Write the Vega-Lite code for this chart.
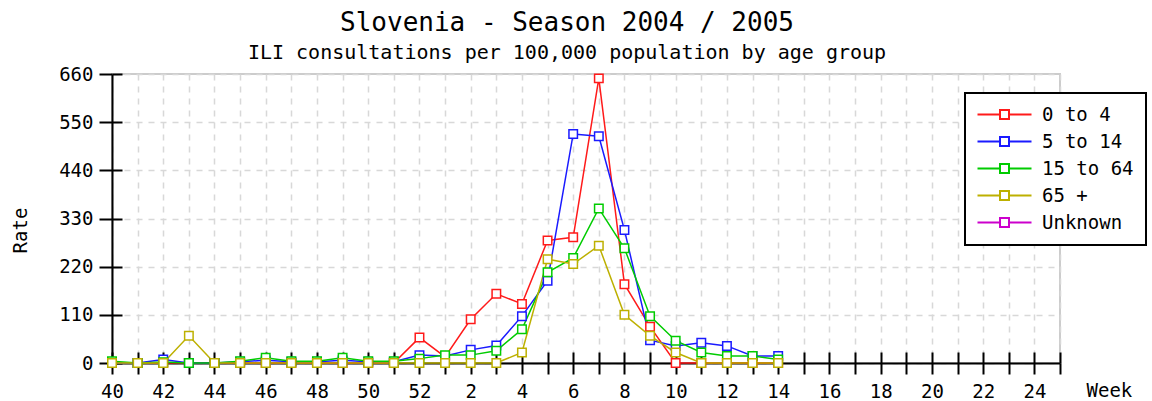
{
  "$schema": "https://vega.github.io/schema/vega-lite/v6.json",
  "width": 948,
  "height": 289,
  "autosize": "none",
  "padding": {"left": 112, "top": 74, "right": 92, "bottom": 38},
  "background": "white",
  "config": {
    "font": "DejaVu Sans Mono",
    "view": {"stroke": "#cccccc", "strokeWidth": 2}
  },
  "title": {
    "text": "Slovenia - Season 2004 / 2005",
    "subtitle": "ILI consultations per 100,000 population by age group",
    "font": "DejaVu Sans Mono",
    "subtitleFont": "DejaVu Sans Mono",
    "fontSize": 26,
    "subtitleFontSize": 20,
    "fontWeight": "normal",
    "color": "black",
    "subtitleColor": "black",
    "anchor": "middle",
    "dx": -19,
    "offset": 2,
    "subtitlePadding": 7
  },
  "data": {
    "values": [
      {"week": 40, "group": "0 to 4", "rate": 0},
      {"week": 41, "group": "0 to 4", "rate": 0},
      {"week": 42, "group": "0 to 4", "rate": 0},
      {"week": 43, "group": "0 to 4", "rate": 0},
      {"week": 44, "group": "0 to 4", "rate": 0},
      {"week": 45, "group": "0 to 4", "rate": 0},
      {"week": 46, "group": "0 to 4", "rate": 0},
      {"week": 47, "group": "0 to 4", "rate": 0},
      {"week": 48, "group": "0 to 4", "rate": 0},
      {"week": 49, "group": "0 to 4", "rate": 0},
      {"week": 50, "group": "0 to 4", "rate": 0},
      {"week": 51, "group": "0 to 4", "rate": 0},
      {"week": 52, "group": "0 to 4", "rate": 58},
      {"week": 1, "group": "0 to 4", "rate": 14},
      {"week": 2, "group": "0 to 4", "rate": 100},
      {"week": 3, "group": "0 to 4", "rate": 158},
      {"week": 4, "group": "0 to 4", "rate": 135},
      {"week": 5, "group": "0 to 4", "rate": 280},
      {"week": 6, "group": "0 to 4", "rate": 287},
      {"week": 7, "group": "0 to 4", "rate": 650},
      {"week": 8, "group": "0 to 4", "rate": 180},
      {"week": 9, "group": "0 to 4", "rate": 83},
      {"week": 10, "group": "0 to 4", "rate": 0},
      {"week": 11, "group": "0 to 4", "rate": 0},
      {"week": 12, "group": "0 to 4", "rate": 0},
      {"week": 13, "group": "0 to 4", "rate": 0},
      {"week": 14, "group": "0 to 4", "rate": 0},

      {"week": 40, "group": "5 to 14", "rate": 0},
      {"week": 41, "group": "5 to 14", "rate": 0},
      {"week": 42, "group": "5 to 14", "rate": 8},
      {"week": 43, "group": "5 to 14", "rate": 0},
      {"week": 44, "group": "5 to 14", "rate": 0},
      {"week": 45, "group": "5 to 14", "rate": 3},
      {"week": 46, "group": "5 to 14", "rate": 6},
      {"week": 47, "group": "5 to 14", "rate": 3},
      {"week": 48, "group": "5 to 14", "rate": 3},
      {"week": 49, "group": "5 to 14", "rate": 6},
      {"week": 50, "group": "5 to 14", "rate": 3},
      {"week": 51, "group": "5 to 14", "rate": 3},
      {"week": 52, "group": "5 to 14", "rate": 18},
      {"week": 1, "group": "5 to 14", "rate": 16},
      {"week": 2, "group": "5 to 14", "rate": 30},
      {"week": 3, "group": "5 to 14", "rate": 40},
      {"week": 4, "group": "5 to 14", "rate": 107},
      {"week": 5, "group": "5 to 14", "rate": 188},
      {"week": 6, "group": "5 to 14", "rate": 523},
      {"week": 7, "group": "5 to 14", "rate": 518},
      {"week": 8, "group": "5 to 14", "rate": 304},
      {"week": 9, "group": "5 to 14", "rate": 52},
      {"week": 10, "group": "5 to 14", "rate": 39},
      {"week": 11, "group": "5 to 14", "rate": 46},
      {"week": 12, "group": "5 to 14", "rate": 39},
      {"week": 13, "group": "5 to 14", "rate": 16},
      {"week": 14, "group": "5 to 14", "rate": 16},

      {"week": 40, "group": "15 to 64", "rate": 4},
      {"week": 41, "group": "15 to 64", "rate": 0},
      {"week": 42, "group": "15 to 64", "rate": 2},
      {"week": 43, "group": "15 to 64", "rate": 0},
      {"week": 44, "group": "15 to 64", "rate": 0},
      {"week": 45, "group": "15 to 64", "rate": 4},
      {"week": 46, "group": "15 to 64", "rate": 12},
      {"week": 47, "group": "15 to 64", "rate": 4},
      {"week": 48, "group": "15 to 64", "rate": 4},
      {"week": 49, "group": "15 to 64", "rate": 12},
      {"week": 50, "group": "15 to 64", "rate": 4},
      {"week": 51, "group": "15 to 64", "rate": 4},
      {"week": 52, "group": "15 to 64", "rate": 10},
      {"week": 1, "group": "15 to 64", "rate": 18},
      {"week": 2, "group": "15 to 64", "rate": 18},
      {"week": 3, "group": "15 to 64", "rate": 28},
      {"week": 4, "group": "15 to 64", "rate": 77},
      {"week": 5, "group": "15 to 64", "rate": 207},
      {"week": 6, "group": "15 to 64", "rate": 240},
      {"week": 7, "group": "15 to 64", "rate": 353},
      {"week": 8, "group": "15 to 64", "rate": 262},
      {"week": 9, "group": "15 to 64", "rate": 107},
      {"week": 10, "group": "15 to 64", "rate": 51},
      {"week": 11, "group": "15 to 64", "rate": 24},
      {"week": 12, "group": "15 to 64", "rate": 16},
      {"week": 13, "group": "15 to 64", "rate": 16},
      {"week": 14, "group": "15 to 64", "rate": 8},

      {"week": 40, "group": "65 +", "rate": 0},
      {"week": 41, "group": "65 +", "rate": 0},
      {"week": 42, "group": "65 +", "rate": 0},
      {"week": 43, "group": "65 +", "rate": 62},
      {"week": 44, "group": "65 +", "rate": 0},
      {"week": 45, "group": "65 +", "rate": 0},
      {"week": 46, "group": "65 +", "rate": 0},
      {"week": 47, "group": "65 +", "rate": 0},
      {"week": 48, "group": "65 +", "rate": 0},
      {"week": 49, "group": "65 +", "rate": 0},
      {"week": 50, "group": "65 +", "rate": 0},
      {"week": 51, "group": "65 +", "rate": 0},
      {"week": 52, "group": "65 +", "rate": 0},
      {"week": 1, "group": "65 +", "rate": 0},
      {"week": 2, "group": "65 +", "rate": 0},
      {"week": 3, "group": "65 +", "rate": 0},
      {"week": 4, "group": "65 +", "rate": 24},
      {"week": 5, "group": "65 +", "rate": 237},
      {"week": 6, "group": "65 +", "rate": 226},
      {"week": 7, "group": "65 +", "rate": 268},
      {"week": 8, "group": "65 +", "rate": 110},
      {"week": 9, "group": "65 +", "rate": 62},
      {"week": 10, "group": "65 +", "rate": 24},
      {"week": 11, "group": "65 +", "rate": 0},
      {"week": 12, "group": "65 +", "rate": 0},
      {"week": 13, "group": "65 +", "rate": 0},
      {"week": 14, "group": "65 +", "rate": 0}
    ]
  },
  "layer": [
    {
      "mark": {"type": "line", "opacity": 0},
      "encoding": {
        "x": {
          "field": "week", "type": "ordinal",
          "scale": {"type": "point", "padding": 0, "domain": [40,41,42,43,44,45,46,47,48,49,50,51,52,1,2,3,4,5,6,7,8,9,10,11,12,13,14,15,16,17,18,19,20,21,22,23,24,25]},
          "axis": {
            "orient": "bottom", "grid": true, "gridColor": "#d8d8d8", "gridDash": [6, 6], "gridWidth": 1.5,
            "ticks": true, "tickSize": -11, "tickColor": "black", "tickWidth": 2,
            "labels": false, "domain": false, "title": null
          }
        },
        "y": {
          "field": "rate", "type": "quantitative",
          "scale": {"domain": [0, 660], "nice": false, "zero": true},
          "axis": {
            "orient": "left", "values": [0,110,220,330,440,550,660], "grid": true, "gridColor": "#d8d8d8", "gridDash": [6, 6], "gridWidth": 1.5,
            "ticks": true, "tickSize": -10, "tickColor": "black", "tickWidth": 2,
            "labels": false, "domain": false, "title": null
          }
        },
        "detail": {"field": "group"},
        "order": {"value": null}
      }
    },
    {
      "mark": {
        "type": "line", "strokeWidth": 1.5,
        "point": {"shape": "square", "filled": false, "fill": "white", "size": 72, "strokeWidth": 1.5}
      },
      "encoding": {
        "x": {
          "field": "week", "type": "ordinal",
          "scale": {"type": "point", "padding": 0, "domain": [40,41,42,43,44,45,46,47,48,49,50,51,52,1,2,3,4,5,6,7,8,9,10,11,12,13,14,15,16,17,18,19,20,21,22,23,24,25]},
          "axis": {
            "orient": "bottom", "grid": false,
            "labelExpr": "datum.value % 2 == 0 ? datum.value : ''",
            "labelAngle": 0, "labelFontSize": 19, "labelColor": "black", "labelPadding": 8, "labelDx": -3,
            "labelOverlap": false, "labelFlush": false,
            "tickSize": 11, "tickColor": "black", "tickWidth": 2,
            "domainColor": "black", "domainWidth": 2,
            "title": "Week", "titleFontSize": 19, "titleFontWeight": "normal", "titleColor": "black",
            "titleX": 974, "titleY": 27, "titleAlign": "left", "titleBaseline": "middle"
          }
        },
        "y": {
          "field": "rate", "type": "quantitative",
          "scale": {"domain": [0, 660], "nice": false, "zero": true},
          "axis": {
            "orient": "left", "values": [0,110,220,330,440,550,660], "grid": false,
            "labelFontSize": 19, "labelColor": "black", "labelPadding": 6,
            "tickSize": 13, "tickColor": "black", "tickWidth": 2,
            "domainColor": "black", "domainWidth": 2,
            "title": "Rate", "titleFontSize": 19, "titleFontWeight": "normal", "titleColor": "black",
            "titleX": -92, "titleY": 156, "titleAlign": "center", "titleBaseline": "middle"
          }
        },
        "color": {
          "field": "group", "type": "nominal",
          "scale": {
            "domain": ["0 to 4", "5 to 14", "15 to 64", "65 +", "Unknown"],
            "range": ["#ff1a1a", "#1a1aff", "#00cc00", "#bdb000", "#cc00cc"]
          },
          "legend": {
            "title": null, "orient": "none", "legendX": 853, "legendY": 19, "direction": "vertical",
            "fillColor": "white", "strokeColor": "black", "padding": 12,
            "labelFontSize": 19, "labelColor": "black", "labelFont": "DejaVu Sans Mono",
            "symbolType": "M-6,0H-1M1,0H6M-1,-1H1V1H-1Z", "symbolSize": 81, "symbolStrokeWidth": 2,
            "symbolFillColor": "white", "symbolOffset": 18, "labelOffset": 28, "rowPadding": 7,
            "encode": {"legend": {"update": {"strokeWidth": {"value": 2}}}}
          }
        },
        "order": {"value": null}
      }
    }
  ],
  "resolve": {"axis": {"x": "independent", "y": "independent"}}
}
